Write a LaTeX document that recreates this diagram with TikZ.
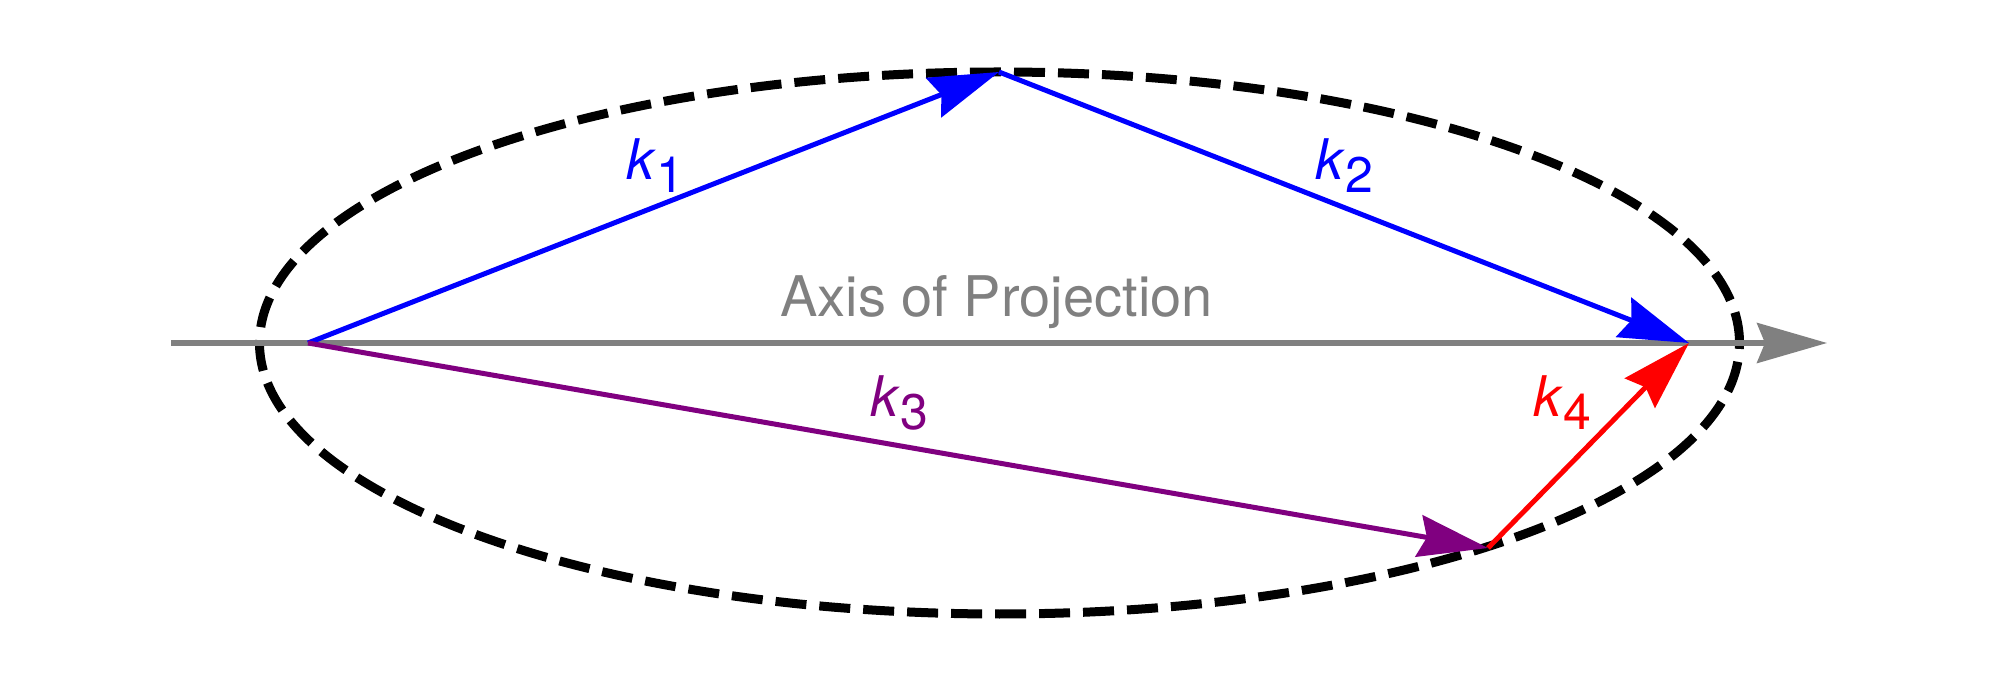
\documentclass[tikz,border=0pt]{standalone}
\usepackage{fontspec}
\setmainfont{TeX Gyre Heros}
\usetikzlibrary{arrows.meta}
\definecolor{vblue}{RGB}{0,0,255}
\definecolor{vpurple}{RGB}{128,0,128}
\definecolor{vred}{RGB}{255,0,0}
\definecolor{vgray}{RGB}{128,128,128}
\newcommand{\klab}[1]{\textit{k}\raisebox{-6.5pt}{\fontsize{25}{30}\selectfont #1}}
\begin{document}
\begin{tikzpicture}[x=0.5pt,y=-0.5pt,
  vec/.style={line width=2.5pt,-{Stealth[length=35pt,width=21pt,inset=4pt]}},
  axisline/.style={line width=2.6pt,vgray,-{Stealth[length=35pt,width=20pt,inset=4pt]}},
  orbit/.style={line width=4.5pt,black,dash pattern=on 15.5pt off 6.5pt},
  lab/.style={inner sep=0pt,anchor=base west,font=\fontsize{28}{34}\selectfont}]
\useasboundingbox[fill=white] (0,0) rectangle (2000,688);
\coordinate (A0) at (171,343);
\coordinate (A1) at (1827,343);
\coordinate (O) at (308,343);
\coordinate (T) at (999,72);
\coordinate (R) at (1689,343);
\coordinate (B) at (1488,548);
\coordinate (C) at (999.5,343);
\draw[orbit] (C) ellipse [x radius=370pt, y radius=135.5pt];
\draw[axisline] (A0) -- (A1);
\draw[vec,vblue] (O) -- (T);
\draw[vec,vblue] (T) -- (R);
\draw[vec,vpurple] (O) -- (B);
\draw[vec,vred] (B) -- (R);
\node[lab,anchor=base,text=vgray] (axl) at (996.5,317) {Axis of Projection};
\node[lab,text=vblue] (k1) at (626,180) {\klab{1}};
\node[lab,text=vblue] (k2) at (1315,180) {\klab{2}};
\node[lab,text=vpurple] (k3) at (870,417) {\klab{3}};
\node[lab,text=vred] (k4) at (1533,417) {\klab{4}};
\end{tikzpicture}
\end{document}
